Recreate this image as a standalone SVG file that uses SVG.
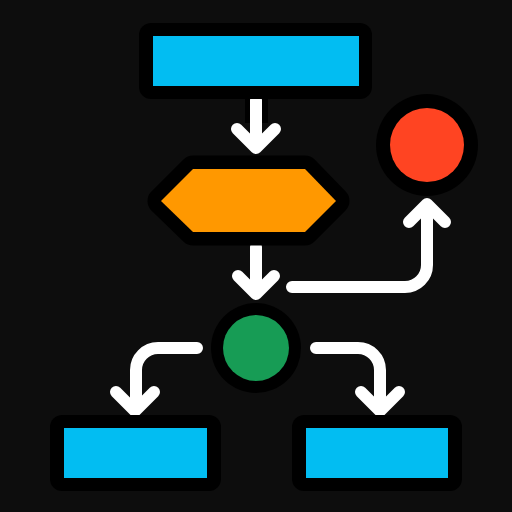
<svg xmlns="http://www.w3.org/2000/svg" width="512" height="512" viewBox="0 0 512 512">
  <style>
    .out { fill: #000000; }
    .blue { fill: #02BDF2; }
    .arrow { fill: none; stroke: #ffffff; stroke-width: 12; stroke-linecap: round; stroke-linejoin: round; }
  </style>
  <rect width="512" height="512" fill="#0d0d0d"/>
  <g id="connectors">
    <rect x="245" y="95" width="23" height="28" fill="#000"/>
    <path class="arrow" d="M256 100 V147 M237 129 L256 148 L275 129"/>
    <path class="arrow" d="M256 247 V293 M238 276 L256 294 L274 276"/>
    <path class="arrow" d="M292 287 H405 A22 22 0 0 0 427 265 V205 M409 222 L427 204 L445 222"/>
    <path class="arrow" d="M197 348 H158 A22 22 0 0 0 136 370 V410 M116 392 L135 411 L154 392"/>
    <path class="arrow" d="M316 348 H358 A22 22 0 0 1 380 370 V410 M361 392 L380 411 L399 392"/>
  </g>
  <g id="start">
    <rect class="out" x="139" y="23" width="233" height="76" rx="12"/>
    <rect class="blue" x="153" y="36" width="206" height="50"/>
  </g>
  <g id="decision">
    <polygon points="161,201 193,169 305,169 336,201 305,232 193,232" fill="#000" stroke="#000" stroke-width="27" stroke-linejoin="round"/>
    <polygon points="161,201 193,169 305,169 336,201 305,232 193,232" fill="#FF9800"/>
  </g>
  <g id="end-red">
    <circle cx="427" cy="145" r="51" fill="#000"/>
    <circle cx="427" cy="145" r="37" fill="#FF4422"/>
  </g>
  <g id="junction">
    <circle cx="256" cy="348" r="45" fill="#000"/>
    <circle cx="256" cy="348" r="33" fill="#179C55"/>
  </g>
  <g id="left-box">
    <rect class="out" x="50" y="415" width="171" height="76" rx="12"/>
    <rect class="blue" x="64" y="428" width="143" height="50"/>
  </g>
  <g id="right-box">
    <rect class="out" x="292" y="415" width="170" height="76" rx="12"/>
    <rect class="blue" x="306" y="428" width="142" height="50"/>
  </g>
</svg>
